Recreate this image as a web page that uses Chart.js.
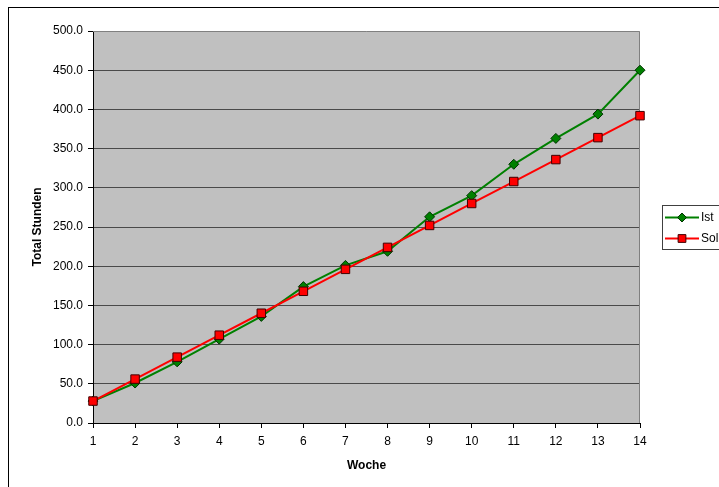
<!DOCTYPE html>
<html>
<head>
<meta charset="utf-8">
<script src="https://cdn.jsdelivr.net/npm/chart.js@4/dist/chart.umd.min.js"></script>
<style>
  html, body { margin: 0; padding: 0; background: #fff; overflow: hidden; }
  #wrap { width: 760px; height: 487px; }
</style>
</head>
<body>
<div id="wrap"><canvas id="myChart" width="760" height="487"></canvas></div>
<script>
// weeks on the x axis
var weeks = ['1','2','3','4','5','6','7','8','9','10','11','12','13','14'];
// actual hours (Ist)
var ist = [28, 51, 78, 107, 136, 174, 201, 219, 263, 290, 330, 363, 394, 450];
// planned hours (Soll)
var soll = [28, 56, 84, 112, 140, 168, 196, 224, 252, 280, 308, 336, 364, 392];
var seriesNames = ['Ist', 'Soll'];

var fontFam = '"Liberation Sans", Arial, sans-serif';

// grey plot area, frame round the whole chart, plot border top/right
var excelLook = {
    id: 'excelLook',
    beforeDraw: function(chart) {
        var ctx = chart.ctx;
        var a = chart.chartArea;
        ctx.save();
        ctx.fillStyle = '#fff';
        ctx.fillRect(0, 0, chart.width, chart.height);
        ctx.fillStyle = '#c0c0c0';
        ctx.fillRect(a.left, a.top, a.right - a.left, a.bottom - a.top);
        ctx.strokeStyle = '#000';
        ctx.lineWidth = 1;
        ctx.strokeRect(8.5, 7.5, chart.width + 20, chart.height + 20);
        ctx.restore();
    },
    beforeDatasetsDraw: function(chart) {
        var ctx = chart.ctx;
        var a = chart.chartArea;
        ctx.save();
        ctx.strokeStyle = '#808080';
        ctx.lineWidth = 1;
        ctx.beginPath();
        ctx.moveTo(a.left, a.top + 0.5);
        ctx.lineTo(a.right - 0.5, a.top + 0.5);
        ctx.lineTo(a.right - 0.5, a.bottom);
        ctx.stroke();
        ctx.restore();
    }
};

// legend box on the right, line + marker like excel
var boxLegend = {
    id: 'boxLegend',
    afterDraw: function(chart) {
        var ctx = chart.ctx;
        var x0 = 662.5, y0 = 205.5;
        ctx.save();
        ctx.fillStyle = '#fff';
        ctx.fillRect(x0, y0, 90, 44);
        ctx.strokeStyle = '#404040';
        ctx.lineWidth = 1;
        ctx.strokeRect(x0, y0, 90, 44);
        chart.data.datasets.forEach(function(ds, i) {
            var y = 217.5 + i * 21;
            ctx.strokeStyle = ds.borderColor;
            ctx.lineWidth = 2;
            ctx.beginPath();
            ctx.moveTo(665, y);
            ctx.lineTo(699, y);
            ctx.stroke();
            ctx.fillStyle = ds.pointBackgroundColor;
            ctx.strokeStyle = ds.pointBorderColor;
            ctx.lineWidth = 1;
            Chart.helpers.drawPoint(ctx, {pointStyle: ds.pointStyle, radius: ds.pointRadius - 0.5, rotation: 0, borderWidth: 1}, 682, y);
            ctx.fillStyle = '#000';
            ctx.font = '12px ' + fontFam;
            ctx.textBaseline = 'middle';
            ctx.fillText(ds.label, 701, y);
        });
        ctx.restore();
    }
};

var ctx = document.getElementById('myChart');
var myChart = new Chart(ctx, {
    type: 'line',
    data: {
        labels: weeks,
        datasets: [
        {
            label: seriesNames[0],
            data: ist,
            borderColor: '#008000',
            borderWidth: 2,
            pointStyle: 'rectRot',
            pointRadius: 5,
            pointBackgroundColor: '#008000',
            pointBorderColor: '#003300',
            pointBorderWidth: 1,
            tension: 0,
            fill: false,
            order: 2
        },
        {
            label: seriesNames[1],
            data: soll,
            borderColor: '#ff0000',
            borderWidth: 2,
            pointStyle: 'rect',
            pointRadius: 6,
            pointBackgroundColor: '#ff0000',
            pointBorderColor: '#400000',
            pointBorderWidth: 1,
            tension: 0,
            fill: false,
            order: 1
        }
        ]
    },
    options: {
        responsive: false,
        animation: false,
        events: [],
        layout: { padding: { left: 26, right: 120, top: 31, bottom: 10 } },
        plugins: {
            legend: { display: false },
            tooltip: { enabled: false }
        },
        scales: {
            x: {
                offset: false,
                afterFit: function(scale) { scale.height = 54; },
                grid: { drawOnChartArea: false, drawTicks: true, tickLength: 5, tickColor: '#000' },
                border: { color: '#000', width: 1 },
                ticks: { color: '#000', padding: 6, maxRotation: 0, font: { family: fontFam, size: 12 } },
                title: { display: true, text: 'Woche', color: '#000', padding: { top: 4, bottom: 4 }, font: { family: fontFam, size: 12, weight: 'bold' } }
            },
            y: {
                min: 0,
                max: 500,
                afterFit: function(scale) { scale.width = 67; },
                grid: {
                    color: function(c) { return c.tick && c.tick.value === 500 ? 'rgba(0,0,0,0)' : '#4a4a4a'; },
                    lineWidth: 1,
                    tickLength: 5,
                    tickColor: '#000'
                },
                border: { color: '#000', width: 1 },
                ticks: {
                    stepSize: 50,
                    color: '#000',
                    padding: 5,
                    font: { family: fontFam, size: 12 },
                    callback: function(v) { return v.toFixed(1); }
                },
                title: { display: true, text: 'Total Stunden', color: '#000', padding: { top: 4, bottom: 4 }, font: { family: fontFam, size: 12, weight: 'bold' } }
            }
        }
    },
    plugins: [excelLook, boxLegend]
});
</script>
</body>
</html>
